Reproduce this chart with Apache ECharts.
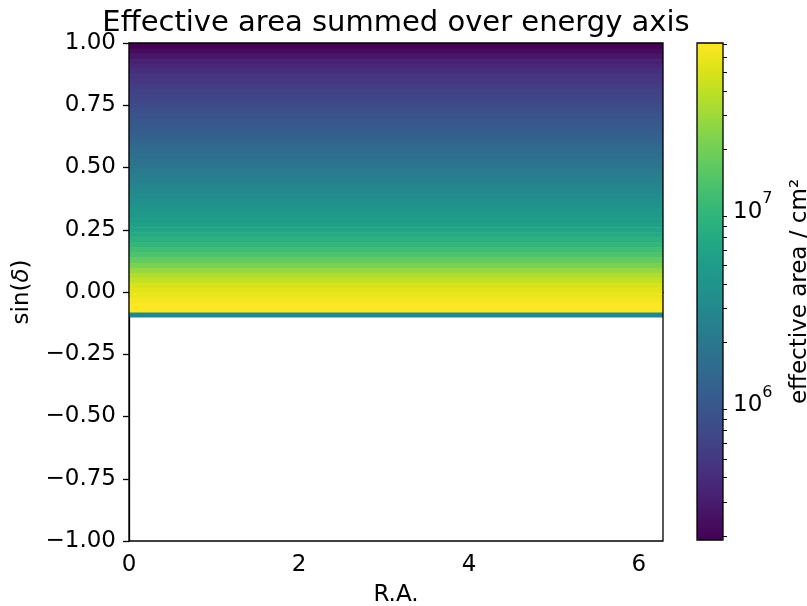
<!DOCTYPE html>
<html><head><meta charset="utf-8">
<script src="https://cdn.jsdelivr.net/npm/echarts@6/dist/echarts.min.js"></script>
<style>html,body{margin:0;padding:0;background:#fff}#c{width:807px;height:606px}</style>
</head><body><div id="c"></div>
<script>
// sin(declination) bin lower edges (bin width 0.02), bottom to top
const sinDecLowerEdges = [-0.10,-0.08,-0.06,-0.04,-0.02,0.00,0.02,0.04,0.06,0.08,0.10,0.12,0.14,0.16,0.18,0.20,0.22,0.24,0.26,0.28,0.30,0.32,0.34,0.36,0.38,0.40,0.42,0.44,0.46,0.48,0.50,0.52,0.54,0.56,0.58,0.60,0.62,0.64,0.66,0.68,0.70,0.72,0.74,0.76,0.78,0.80,0.82,0.84,0.86,0.88,0.90,0.92,0.94,0.96,0.98];
const binWidth = 0.02;
// R.A. extent of each row (radians)
const raExtent = [0, 2 * Math.PI];
// effective area summed over energy (cm^2), one value per sin(dec) bin
const effectiveArea = [2.73e6,6.85e7,7.07e7,6.47e7,5.92e7,5.42e7,4.81e7,4.15e7,3.48e7,2.74e7,2.17e7,1.71e7,1.35e7,1.13e7,9.46e6,8.16e6,7.04e6,6.25e6,5.55e6,5.08e6,4.65e6,4.26e6,3.89e6,3.56e6,3.26e6,2.98e6,2.73e6,2.50e6,2.29e6,2.09e6,1.92e6,1.75e6,1.60e6,1.51e6,1.38e6,1.27e6,1.16e6,1.06e6,1.00e6,9.15e5,8.62e5,7.89e5,7.22e5,6.60e5,6.22e5,5.87e5,5.53e5,4.91e5,4.63e5,4.11e5,3.65e5,3.25e5,2.72e5,2.28e5,1.905e5];
const colorMin = 1.905e5, colorMax = 7.07e7;
const xTicks = [0, 2, 4, 6];
const yTicks = [-1, -0.75, -0.5, -0.25, 0, 0.25, 0.5, 0.75, 1];
const cbarMajor = [1e6, 1e7];
const cbarMinor = [2e5,3e5,4e5,5e5,6e5,7e5,8e5,9e5,2e6,3e6,4e6,5e6,6e6,7e6,8e6,9e6,2e7,3e7,4e7,5e7,6e7,7e7];
const viridis = ['#440154','#471365','#482475','#463480','#414487','#3b528b','#355f8d','#2f6c8e','#2a788e','#25848e','#21918c','#1e9c89','#22a884','#2fb47c','#44bf70','#5ec962','#7ad151','#9bd93c','#bddf26','#dfe318','#fde725'];

const FONT = 'DejaVu Sans';
const FS = 23;
const data = sinDecLowerEdges.map((lo, i) => [raExtent[0], raExtent[1], lo, lo + binWidth, effectiveArea[i], Math.log10(effectiveArea[i])]);

const chart = echarts.init(document.getElementById('c'), null, {renderer: 'canvas'});
chart.setOption({
  animation: false,
  backgroundColor: '#fff',
  textStyle: {fontFamily: FONT},
  graphic: [{
    type: 'text', x: 396, y: 23,
    style: {text: 'Effective area summed over energy axis', font: '29px "DejaVu Sans"', fill: '#000', textAlign: 'center', textVerticalAlign: 'middle'}
  }],
  grid: [
    {left: 129, top: 43, width: 534, height: 498, show: true, borderColor: '#000', borderWidth: 1.3, backgroundColor: 'transparent', z: 5, outerBoundsMode: 'none', containLabel: false},
    {left: 697, top: 43, width: 26, height: 497, show: true, borderColor: '#000', borderWidth: 1.3, backgroundColor: 'transparent', z: 5, outerBoundsMode: 'none', containLabel: false}
  ],
  xAxis: [
    {gridIndex: 0, type: 'value', min: 0, max: raExtent[1],
     name: 'R.A.', nameLocation: 'middle', nameGap: 43, nameTextStyle: {fontSize: FS, color: '#000', fontFamily: FONT},
     axisLine: {show: true, lineStyle: {color: '#000', width: 1.3}},
     axisTick: {show: true, length: 6, lineStyle: {color: '#000', width: 1.3}, customValues: xTicks},
     axisLabel: {customValues: xTicks, fontSize: FS, color: '#000', margin: 13, fontFamily: FONT},
     splitLine: {show: false}},
    {gridIndex: 1, type: 'value', show: false, min: 0, max: 1}
  ],
  yAxis: [
    {gridIndex: 0, type: 'value', min: -1, max: 1, interval: 0.25,
     name: '{n|sin(}{i|δ}{n|)}', nameLocation: 'middle', nameGap: 95, nameRotate: 90,
     nameTextStyle: {fontSize: FS, color: '#000', fontFamily: FONT, rich: {n: {fontSize: FS, fontFamily: FONT, color: '#000'}, i: {fontSize: FS, fontFamily: FONT, fontStyle: 'italic', color: '#000'}}},
     axisLine: {show: true, lineStyle: {color: '#000', width: 1.3}},
     axisTick: {show: true, length: 6, lineStyle: {color: '#000', width: 1.3}},
     axisLabel: {fontSize: FS, color: '#000', margin: 13, fontFamily: FONT, formatter: v => v.toFixed(2).replace('-', '\u2212')},
     splitLine: {show: false}},
    {gridIndex: 1, type: 'value', position: 'right', min: Math.log10(colorMin), max: Math.log10(colorMax),
     name: 'effective area / cm²', nameLocation: 'middle', nameGap: 66, nameRotate: 90,
     nameTextStyle: {fontSize: FS, color: '#000', fontFamily: FONT},
     axisLine: {show: false},
     axisTick: {show: true, length: 7, lineStyle: {color: '#000', width: 1.3}, customValues: cbarMajor.map(Math.log10)},
     axisLabel: {customValues: cbarMajor.map(Math.log10), color: '#000', margin: 10, fontFamily: FONT,
       formatter: v => '{b|10}{s|' + Math.round(v) + '}',
       rich: {b: {fontSize: FS, fontFamily: FONT, color: '#000', verticalAlign: 'bottom', lineHeight: 30},
              s: {fontSize: 16, fontFamily: FONT, color: '#000', verticalAlign: 'top', lineHeight: 32}}},
     splitLine: {show: false}},
    {gridIndex: 1, type: 'value', position: 'right', min: Math.log10(colorMin), max: Math.log10(colorMax),
     axisLine: {show: false},
     axisTick: {show: true, length: 4, lineStyle: {color: '#000', width: 1}, customValues: cbarMinor.map(Math.log10)},
     axisLabel: {show: false, customValues: []},
     splitLine: {show: false}}
  ],
  visualMap: {
    type: 'continuous', seriesIndex: 0, dimension: 5,
    min: Math.log10(colorMin), max: Math.log10(colorMax),
    inRange: {color: viridis},
    orient: 'vertical', left: 697, top: 43, itemWidth: 26, itemHeight: 497,
    padding: 0, calculable: false, text: null, showLabel: false, z: 1, hoverLink: false
  },
  series: [{
    type: 'custom', xAxisIndex: 0, yAxisIndex: 0, clip: true,
    encode: {x: [0, 1], y: [2, 3]},
    data: data,
    renderItem: function (params, api) {
      const p0 = api.coord([api.value(0), api.value(3)]);
      const p1 = api.coord([api.value(1), api.value(2)]);
      const c = api.visual('color');
      return {type: 'rect', shape: {x: p0[0], y: p0[1], width: p1[0] - p0[0], height: p1[1] - p0[1] + 0.6},
        style: {fill: c}};
    }
  }]
});
</script></body></html>
